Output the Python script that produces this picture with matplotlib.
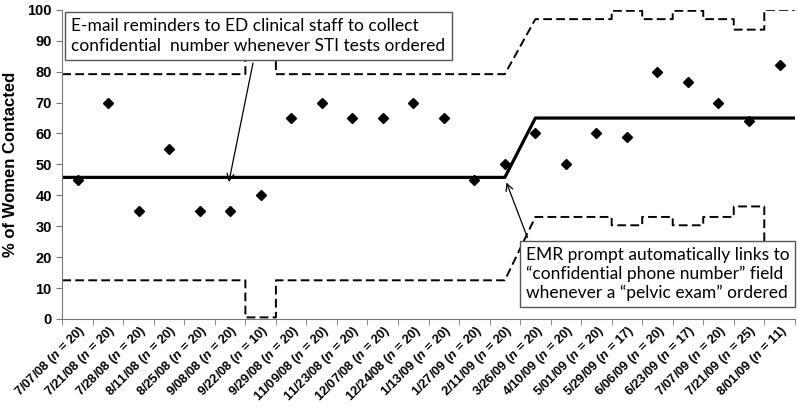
import numpy as np
import matplotlib
matplotlib.use("Agg")
import matplotlib.pyplot as plt

# data
dates = ['7/07/08', '7/21/08', '7/28/08', '8/11/08', '8/25/08', '9/08/08',
         '9/22/08', '9/29/08', '11/09/08', '11/23/08', '12/07/08', '12/24/08',
         '1/13/09', '1/27/09', '2/11/09', '3/26/09', '4/10/09', '5/01/09',
         '5/29/09', '6/06/09', '6/23/09', '7/07/09', '7/21/09', '8/01/09']
n_sizes = [20, 20, 20, 20, 20, 20, 10, 20, 20, 20, 20, 20,
           20, 20, 20, 20, 20, 20, 17, 20, 17, 20, 25, 11]
pct_contacted = [45, 70, 35, 55, 35, 35, 40, 65, 70, 65, 65, 70,
                 65, 45, 50, 60, 50, 60, 59, 80, 76.5, 70, 64, 82]
center = [45.8] * 15 + [65] * 9
upper = [79.2, 79.2, 79.2, 79.2, 79.2, 79.2, 93.1, 79.2, 79.2, 79.2, 79.2, 79.2,
         79.2, 79.2, 79.2, 97, 97, 97, 99.7, 97, 99.7, 97, 93.6, 100]
lower = [12.5, 12.5, 12.5, 12.5, 12.5, 12.5, 0.5, 12.5, 12.5, 12.5, 12.5, 12.5,
         12.5, 12.5, 12.5, 33, 33, 33, 30.3, 33, 30.3, 33, 36.4, 21.9]
phase_break = 15  # EMR prompt starts here


def step_path(vals):
    # flat steps per category, ramp from center of last pre point to first post point
    xs, ys = [], []
    for i, v in enumerate(vals):
        x0 = i - 0.5 if i != phase_break else i
        x1 = i + 0.5 if i != phase_break - 1 else i
        xs += [x0, x1]
        ys += [v, v]
    return xs, ys


plt.rcParams['mathtext.fontset'] = 'custom'
plt.rcParams['mathtext.it'] = 'Liberation Sans:italic:bold'
plt.rcParams['mathtext.rm'] = 'Liberation Sans:bold'

fig, ax = plt.subplots(figsize=(7.98, 4.11), dpi=100)
fig.subplots_adjust(left=0.078, right=0.996, top=0.976, bottom=0.224)

x = np.arange(len(dates))
for lim in (upper, lower):
    xs, ys = step_path(lim)
    ax.plot(xs, ys, color='black', lw=1.4, ls=(0, (4.5, 2.2)))
xs, ys = step_path(center)
ax.plot(xs, ys, color='black', lw=2.3)
ax.plot(x, pct_contacted, 'D', color='black', markersize=5.5, zorder=5)

ax.set_xlim(-0.5, len(dates) - 0.5)
ax.set_ylim(0, 100)
ax.set_yticks(range(0, 101, 10))
ax.set_xticks(np.arange(len(dates) + 1) - 0.5, minor=True)
ax.set_xticks(x)
labels = [f'{d} ($n$ = {n})' for d, n in zip(dates, n_sizes)]
ax.set_xticklabels(labels, rotation=45, ha='right', rotation_mode='anchor',
                   fontsize=9.3, fontweight='bold', family='Liberation Sans')
ax.tick_params(axis='x', which='major', length=0, pad=3)
ax.tick_params(axis='x', which='minor', length=4, color='#777777')
ax.tick_params(axis='y', length=4, color='#777777')
for lab in ax.get_yticklabels():
    lab.set_fontweight('bold')
    lab.set_fontsize(10.5)
    lab.set_family('Liberation Sans')
ax.set_ylabel('% of Women Contacted', fontsize=12, fontweight='bold',
              family='Liberation Sans', labelpad=7)
for s in ('top', 'right'):
    ax.spines[s].set_visible(False)
for s in ('left', 'bottom'):
    ax.spines[s].set_color('#777777')

box = dict(boxstyle='square,pad=0.35', fc='white', ec='#555555', lw=1)
ax.annotate('E-mail reminders to ED clinical staff to collect\n'
            'confidential  number whenever STI tests ordered',
            xy=(4.94, 43.4), xytext=(5.93, 91.6), ha='center', va='center',
            multialignment='left', fontsize=12.5, family='Lato', bbox=box,
            linespacing=1.3, zorder=6,
            arrowprops=dict(arrowstyle='->', color='black', lw=0.9))
ax.annotate('EMR prompt automatically links to\n'
            '\u201cconfidential phone number\u201d field\n'
            'whenever a \u201cpelvic exam\u201d ordered',
            xy=(14.02, 45), xytext=(19.0, 14.6), ha='center', va='center',
            multialignment='left', fontsize=12.5, family='Lato', bbox=box,
            linespacing=1.2, zorder=6, annotation_clip=False,
            arrowprops=dict(arrowstyle='->', color='black', lw=0.9,
                            relpos=(0.02, 1)))

plt.savefig('out.png', dpi=100)
